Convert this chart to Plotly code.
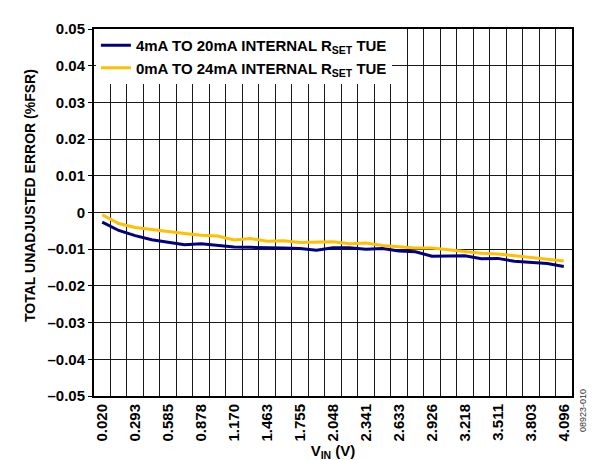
import plotly.graph_objects as go

# V_IN categories (V)
vin = ["0.020", "0.146", "0.293", "0.439", "0.585", "0.731", "0.878", "1.024",
       "1.170", "1.316", "1.463", "1.609", "1.755", "1.901", "2.048", "2.194",
       "2.341", "2.487", "2.633", "2.779", "2.926", "3.072", "3.218", "3.364",
       "3.511", "3.657", "3.803", "3.950", "4.096"]

# labelled categories (every other one)
vin_tick_labels = vin[::2]

# TUE (%FSR), 4mA to 20mA internal RSET
tue_4_20 = [-0.0026, -0.0049, -0.0063, -0.0074, -0.0081, -0.0088, -0.0085, -0.0089,
            -0.0094, -0.0095, -0.0097, -0.0097, -0.0098, -0.0103, -0.0096, -0.0096,
            -0.0100, -0.0098, -0.0105, -0.0107, -0.0119, -0.0119, -0.0118, -0.0126,
            -0.0125, -0.0133, -0.0137, -0.0139, -0.0147]

# TUE (%FSR), 0mA to 24mA internal RSET
tue_0_24 = [-0.0006, -0.0030, -0.0041, -0.0047, -0.0053, -0.0057, -0.0062, -0.0064,
            -0.0075, -0.0071, -0.0078, -0.0077, -0.0082, -0.0080, -0.0080, -0.0085,
            -0.0083, -0.0090, -0.0094, -0.0097, -0.0097, -0.0102, -0.0105, -0.0111,
            -0.0113, -0.0118, -0.0122, -0.0126, -0.0132]

y_tick_vals = [0.05, 0.04, 0.03, 0.02, 0.01, 0, -0.01, -0.02, -0.03, -0.04, -0.05]
y_tick_text = ["0.05", "0.04", "0.03", "0.02", "0.01", "0",
               "\u20130.01", "\u20130.02", "\u20130.03", "\u20130.04", "\u20130.05"]

FONT = "Liberation Sans, Arial, sans-serif"

fig = go.Figure()
fig.add_trace(go.Scatter(
    x=vin, y=tue_4_20, mode="lines",
    name="4mA TO 20mA INTERNAL R<sub>SET</sub> TUE",
    line=dict(color="#000080", width=3),
))
fig.add_trace(go.Scatter(
    x=vin, y=tue_0_24, mode="lines",
    name="0mA TO 24mA INTERNAL R<sub>SET</sub> TUE",
    line=dict(color="#FFC000", width=3),
))

fig.update_layout(
    width=598, height=460,
    margin=dict(l=86, r=34, t=12, b=68),
    paper_bgcolor="white", plot_bgcolor="white",
    font=dict(family=FONT, size=15, color="black", weight="bold"),
    legend=dict(
        x=0.004, y=1.0, xanchor="left", yanchor="top",
        bgcolor="white", borderwidth=0,
        font=dict(family=FONT, size=15, color="black", weight="bold"),
        tracegroupgap=0,
    ),
    xaxis=dict(
        type="category", categoryorder="array", categoryarray=vin,
        range=[-0.5, len(vin) - 0.5],
        tickmode="array", tickvals=vin,
        ticktext=[v if v in vin_tick_labels else "" for v in vin],
        tickson="boundaries", ticks="",
        tickangle=-90,
        tickfont=dict(family=FONT, size=15, color="black", weight="bold"),
        showgrid=True, gridcolor="#1a1a1a", gridwidth=1,
        showline=True, linecolor="black", linewidth=2, mirror=True,
        zeroline=False,
        title=dict(text="V<sub>IN</sub> (V)", standoff=4,
                   font=dict(family=FONT, size=15, color="black", weight="bold")),
    ),
    yaxis=dict(
        range=[-0.05, 0.05],
        tickmode="array", tickvals=y_tick_vals, ticktext=y_tick_text,
        ticks="outside", ticklen=4, tickcolor="black", tickwidth=1,
        tickfont=dict(family=FONT, size=15, color="black", weight="bold"),
        showgrid=True, gridcolor="#1a1a1a", gridwidth=1,
        showline=True, linecolor="black", linewidth=2, mirror=True,
        zeroline=False,
    ),
    showlegend=True,
)

# y-axis title
fig.add_annotation(
    text="TOTAL UNADJUSTED ERROR (%FSR)", xref="paper", yref="paper",
    x=0, y=0.545, xshift=-64, textangle=-90, showarrow=False,
    xanchor="center", yanchor="middle",
    font=dict(family=FONT, size=14, color="black", weight="bold"),
)

fig.add_annotation(
    text="08923-010", xref="paper", yref="paper",
    x=1.0, y=-0.105, xshift=18, textangle=-90, showarrow=False,
    font=dict(family=FONT, size=9, color="#333333", weight="normal"),
)

fig.write_html("out.html")
